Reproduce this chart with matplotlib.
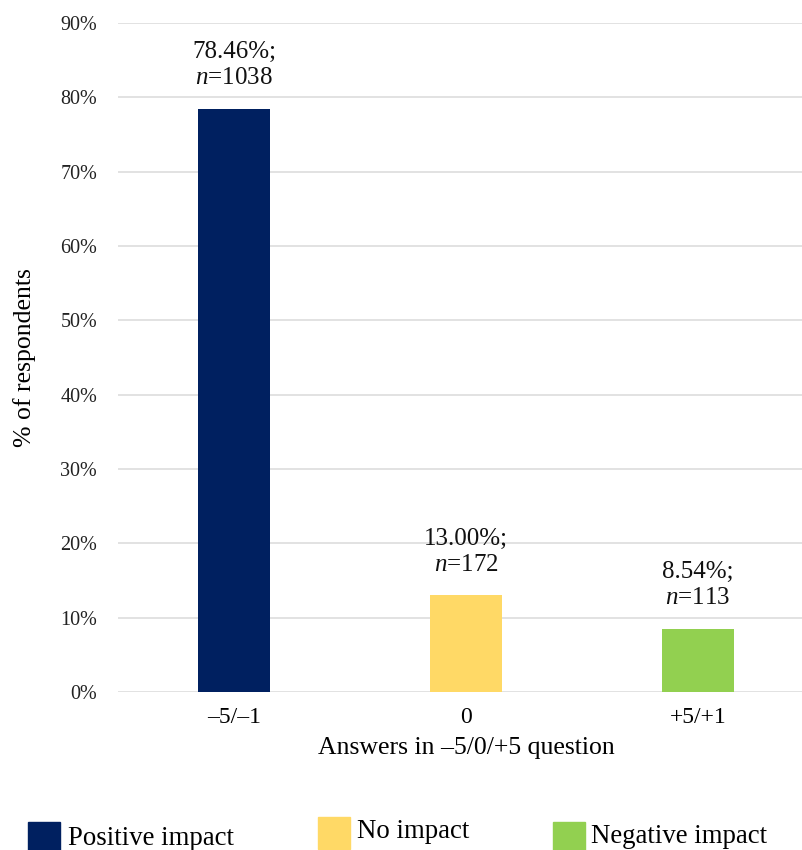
import matplotlib
matplotlib.use("Agg")
import matplotlib.pyplot as plt
from matplotlib.patches import Rectangle
from matplotlib.ticker import PercentFormatter

categories = ["\u20135/\u20131", "0", "+5/+1"]
percent = [78.46, 13.00, 8.54]
counts = [1038, 172, 113]
legend_labels = ["Positive impact", "No impact", "Negative impact"]
colors = ["#002060", "#FFD966", "#92D050"]
yticks = [0, 10, 20, 30, 40, 50, 60, 70, 80, 90]

plt.rcParams['font.family'] = ['Liberation Serif', 'DejaVu Serif']
plt.rcParams['mathtext.fontset'] = 'custom'
plt.rcParams['mathtext.it'] = 'Liberation Serif:italic'
plt.rcParams['mathtext.rm'] = 'Liberation Serif'

W, H = 803, 850
fig = plt.figure(figsize=(W/100, H/100), dpi=100)
ax = fig.add_axes([118/W, 1 - 692/H, 1 - 118/W, (692 - 23)/H])

x = list(range(len(categories)))
bars = ax.bar(x, percent, width=0.31, color=colors, zorder=3)

ax.set_ylim(0, 90)
ax.set_xlim(-0.5, -0.5 + 685/232)
ax.set_yticks(yticks)
ax.yaxis.set_major_formatter(PercentFormatter(decimals=0))
ax.grid(axis='y', color='#DDDDDD', linewidth=1.2, zorder=0)
for s in ax.spines.values():
    s.set_visible(False)
ax.tick_params(axis='both', length=0)
ax.tick_params(axis='y', labelsize=14.5, pad=15, labelcolor='#222222')
ax.set_xticks(x)
ax.set_xticklabels(categories, fontsize=17)
ax.tick_params(axis='x', pad=11)

for xi, p, n in zip(x, percent, counts):
    ax.annotate(f"{p:.2f}%;\n$n$={n}", xy=(xi, p), xytext=(0, 14),
                textcoords='offset points', ha='center', va='bottom',
                fontsize=18, linespacing=1.25, color='#111111')

ax.set_ylabel("% of respondents", fontsize=18.5)
ax.yaxis.set_label_coords(-(118 - 25)/685, 0.5)
ax.yaxis.label.set_va('center')
ax.set_xlabel("Answers in \u20135/0/+5 question", fontsize=18.5)
ax.xaxis.set_label_coords((466 - 118)/685, -(748 - 692)/669, transform=ax.transAxes)
ax.xaxis.label.set_va('center')

# legend
leg_sq = [(28, 822), (318, 817), (553, 822)]
leg_tx = [(68, 845), (357, 838), (591, 843)]
for (sx, sy), (tx, ty), c, lab in zip(leg_sq, leg_tx, colors, legend_labels):
    fig.patches.append(Rectangle((sx/W, 1 - (sy + 32)/H), 32/W, 32/H,
                                 transform=fig.transFigure, color=c))
    fig.text(tx/W, 1 - ty/H, lab, fontsize=19.3, va='baseline', ha='left')

fig.savefig("out.png", dpi=100)
